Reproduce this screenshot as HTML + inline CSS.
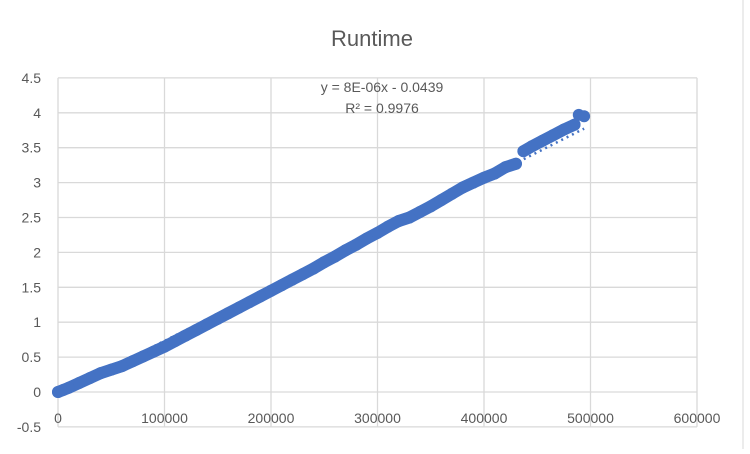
<!DOCTYPE html>
<html><head><meta charset="utf-8"><style>
body{margin:0;background:#fff;width:750px;height:449px;overflow:hidden;font-family:"Liberation Sans",Arial,sans-serif}
</style></head><body>
<svg id="chart" width="750" height="449" xmlns="http://www.w3.org/2000/svg">
<rect width="750" height="449" fill="#fff"/>
<line x1="743" y1="0" x2="743" y2="449" stroke="#d9d9d9" stroke-width="1"/>
<text x="372" y="46" text-anchor="middle" font-size="22" fill="#595959">Runtime</text>
<g id="grid"></g><g id="ticks"></g><g id="trend"></g><g id="marks"></g>
<text x="382" y="92" text-anchor="middle" font-size="14" fill="#595959">y = 8E-06x - 0.0439</text>
<text x="382" y="113" text-anchor="middle" font-size="14" fill="#595959">R² = 0.9976</text>
</svg>
<script>
const xVals=[0,5000,10000,20000,30000,40000,50000,60000,70000,80000,90000,100000,110000,120000,130000,140000,150000,160000,170000,180000,190000,200000,210000,220000,230000,240000,250000,260000,270000,280000,290000,300000,310000,320000,330000,340000,350000,360000,370000,380000,390000,400000,410000,420000,430000,437000,445000,455000,465000,475000,485000,489000,494000];
const yVals=[0,0.03,0.06,0.13,0.2,0.27,0.32,0.37,0.44,0.51,0.58,0.65,0.73,0.81,0.89,0.97,1.05,1.13,1.21,1.29,1.37,1.45,1.53,1.61,1.69,1.77,1.86,1.94,2.03,2.11,2.2,2.28,2.37,2.45,2.5,2.58,2.66,2.75,2.84,2.93,3.0,3.07,3.13,3.22,3.27,3.45,3.52,3.6,3.68,3.76,3.83,3.97,3.95];
const xTicks=[0,100000,200000,300000,400000,500000,600000];
const yTicks=[-0.5,0,0.5,1,1.5,2,2.5,3,3.5,4,4.5];
const trendSlope=7.72e-6, trendIntercept=-0.04;
const X=v=>58+v*(639/600000);
const Y=v=>392-v*69.8;
const NS="http://www.w3.org/2000/svg";
function mk(t,a,p){const e=document.createElementNS(NS,t);for(const k in a)e.setAttribute(k,a[k]);p.appendChild(e);return e;}
const grid=document.getElementById('grid'),ticks=document.getElementById('ticks'),marks=document.getElementById('marks'),trend=document.getElementById('trend');
yTicks.forEach(t=>{
 const l=mk('line',{x1:X(0),x2:X(600000),y1:Y(t),y2:Y(t),stroke:'#d9d9d9','stroke-width':1.3},grid);
 
 
 const tx=mk('text',{x:41,y:Y(t)+5,'text-anchor':'end','font-size':14,fill:'#595959'},ticks);
 tx.textContent=t;
 
 
});
xTicks.forEach(t=>{
 const l=mk('line',{x1:X(t),x2:X(t),y1:Y(4.5),y2:Y(-0.5),stroke:'#d9d9d9','stroke-width':1.3},grid);
 
 
 const tx=mk('text',{x:X(t),y:Y(-0.5)-4,'text-anchor':'middle','font-size':14,fill:'#595959'},ticks);
 tx.textContent=t;
 
 
});
const tl=mk('line',{x1:X(0),y1:Y(trendIntercept),x2:X(xVals[xVals.length-1]),y2:Y(trendSlope*xVals[xVals.length-1]+trendIntercept),stroke:'#4472c4','stroke-width':2.5,'stroke-dasharray':'2 4'},trend);


const pts=xVals.map((x,i)=>X(x)+','+Y(yVals[i]));
const splitIdx=45;
const pl1=mk('polyline',{points:pts.slice(0,splitIdx).join(' '),fill:'none',stroke:'#4472c4','stroke-width':12,'stroke-linejoin':'round','stroke-linecap':'round'},marks);


const pl2=mk('polyline',{points:pts.slice(splitIdx,xVals.length-2).join(' '),fill:'none',stroke:'#4472c4','stroke-width':12,'stroke-linejoin':'round','stroke-linecap':'round'},marks);


xVals.forEach((x,i)=>{
 const c=mk('circle',{cx:X(x),cy:Y(yVals[i]),r:6,fill:'#4472c4'},marks);
 
 
});
</script>
</body></html>
